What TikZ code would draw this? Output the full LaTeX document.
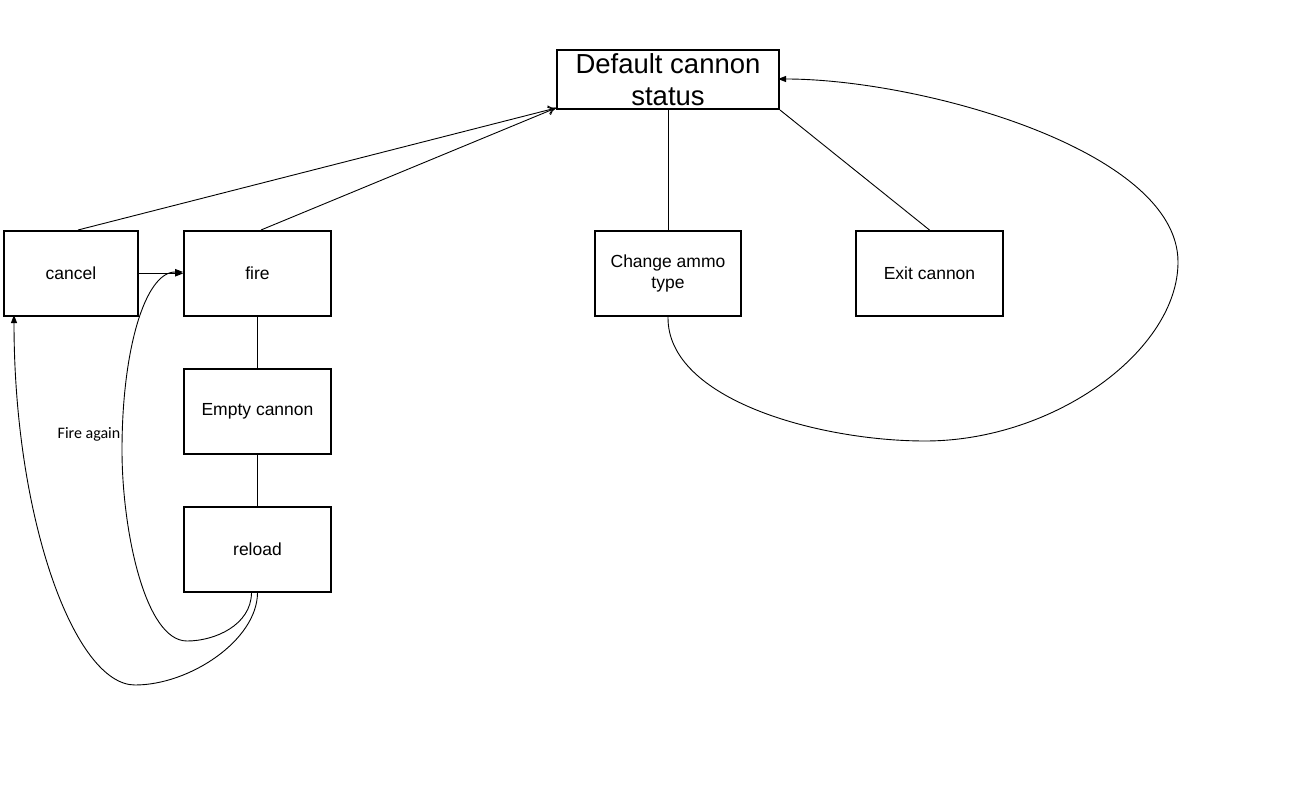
\documentclass[tikz,border=0pt]{standalone}
\usepackage{fontspec}
\setmainfont{Liberation Sans}
\newfontfamily\labelfont{Carlito}
\usetikzlibrary{arrows.meta}
\begin{document}
\begin{tikzpicture}[x=1pt,y=-1pt,
  box/.style={draw,line width=2pt,inner sep=0pt,anchor=north west,align=center,font=\fontsize{17.5}{21}\selectfont},
  conn/.style={line width=0.9pt},
  openarr/.style={conn,-{To[length=8pt,width=9pt]}},
  fillarr/.style={conn,-{Triangle[length=8pt,width=6pt]}}]
\useasboundingbox[fill=white] (0,0) rectangle (1306,802);
\node[box,minimum width=222pt,minimum height=59pt,font=\fontsize{27.5}{32}\selectfont] (def) at (556,49) {Default cannon\\status};
\node[box,minimum width=134pt,minimum height=85pt] (cancel) at (3,230) {cancel};
\node[box,minimum width=147pt,minimum height=85pt] (fire) at (183,230) {fire};
\node[box,minimum width=146pt,minimum height=85pt] (ammo) at (594,230) {\raisebox{-3pt}{\parbox{140pt}{\centering Change ammo\\type}}};
\node[box,minimum width=147pt,minimum height=85pt] (exit) at (855,230) {Exit cannon};
\node[box,minimum width=147pt,minimum height=85pt] (empty) at (183,368) {\raisebox{-2pt}{Empty cannon}};
\node[box,minimum width=147pt,minimum height=85pt] (reload) at (183,506) {reload};
\node[font=\labelfont\fontsize{16}{18}\selectfont,inner sep=0pt] (fa) at (89,434) {Fire again};
\coordinate (defL) at (556,108);
\coordinate (defR) at (778,79);
\coordinate (fireL) at (183,272);
\coordinate (cancelB) at (14,315);
\draw[openarr] (cancel.north) ++(7,0) -- (defL);
\draw[openarr] (fire.north) ++(3.5,0) -- (defL);
\draw[conn] (def.south) -- (ammo.north);
\draw[conn] (def.south east) -- (exit.north);
\draw[fillarr] (cancel.east) -- (fire.west);
\draw[conn] (fire.south) -- (empty.north);
\draw[conn] (empty.south) -- (reload.north);
\draw[fillarr] ([xshift=-6pt]reload.south) .. controls (251,625) and (215,641) .. (187,641)
  .. controls (145,641) and (122,530) .. (122,450)
  .. controls (122,350) and (145,272) .. (fireL);
\draw[fillarr] (reload.south) .. controls (257,640) and (190,685) .. (135,685)
  .. controls (75,685) and (14,520) .. (cancelB);
\draw[fillarr] (ammo.south) .. controls (667,400) and (820,441) .. (925,441)
  .. controls (1055,441) and (1178,350) .. (1178,262)
  .. controls (1178,150) and (920,79) .. (defR);
\end{tikzpicture}
\end{document}
